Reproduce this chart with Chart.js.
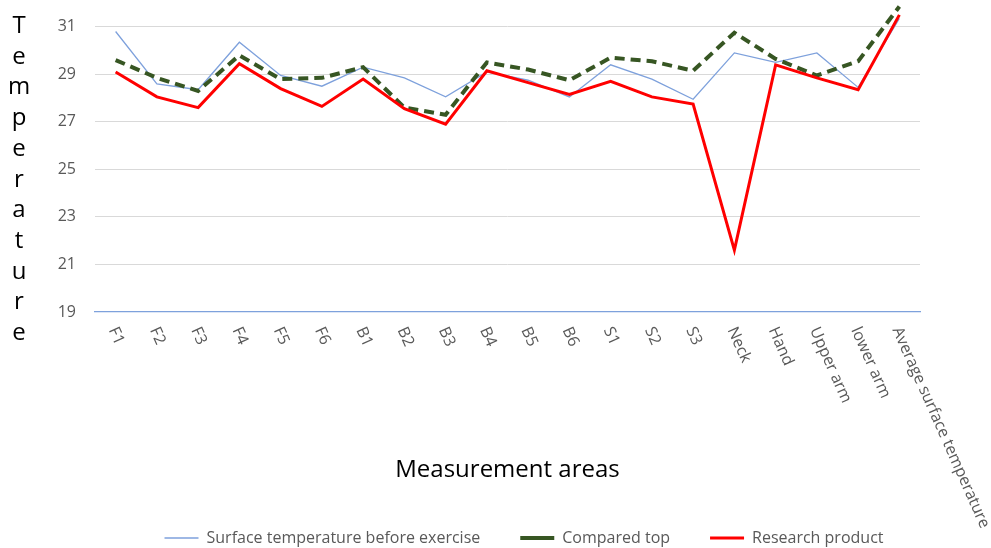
<!DOCTYPE html>
<html>
<head>
<meta charset="utf-8">
<script src="https://cdn.jsdelivr.net/npm/chart.js@4/dist/chart.umd.min.js"></script>
<style>
  html, body { margin: 0; padding: 0; background: #fff; }
  #wrap { width: 991px; height: 548px; position: relative; }
</style>
</head>
<body>
<div id="wrap"><canvas id="c" width="991" height="548"></canvas></div>
<script>
const categories = ['F1','F2','F3','F4','F5','F6','B1','B2','B3','B4','B5','B6','S1','S2','S3','Neck','Hand','Upper arm','lower arm','Average surface temperature'];
const beforeExercise = [30.8, 28.6, 28.35, 30.35, 28.95, 28.5, 29.3, 28.85, 28.05, 29.1, 28.75, 28.05, 29.4, 28.8, 27.95, 29.9, 29.5, 29.9, 28.45, 31.35];
const comparedTop = [29.6, 28.85, 28.3, 29.8, 28.8, 28.85, 29.3, 27.6, 27.3, 29.5, 29.2, 28.75, 29.7, 29.55, 29.15, 30.75, 29.65, 28.95, 29.55, 31.85];
const researchProduct = [29.1, 28.05, 27.6, 29.45, 28.4, 27.65, 28.8, 27.55, 26.9, 29.15, 28.65, 28.15, 28.7, 28.05, 27.75, 21.6, 29.4, 28.85, 28.35, 31.5];
const yTicks = [19, 21, 23, 25, 27, 29, 31];
const yTitle = 'Temperature';
const xTitle = 'Measurement areas';

const FONT = "'Open Sans', 'Noto Sans', sans-serif";

const customText = {
  id: 'customText',
  afterDraw(chart) {
    const ctx = chart.ctx;
    const xs = chart.scales.x;
    const area = chart.chartArea;
    ctx.save();
    // rotated category labels (clockwise, reading downward)
    ctx.font = '16px ' + FONT;
    ctx.fillStyle = '#595959';
    ctx.textAlign = 'left';
    ctx.textBaseline = 'middle';
    categories.forEach((lab, i) => {
      const px = xs.getPixelForTick(i);
      ctx.save();
      ctx.translate(px - 3, area.bottom + 16);
      ctx.rotate(66 * Math.PI / 180);
      ctx.fillText(lab, 0, 0);
      ctx.restore();
    });
    // stacked y-axis title
    ctx.font = '24px ' + FONT;
    ctx.fillStyle = '#000';
    ctx.textAlign = 'center';
    ctx.textBaseline = 'alphabetic';
    yTitle.split('').forEach((ch, i) => {
      ctx.fillText(ch, 19, 33 + i * 30.7);
    });
    ctx.restore();
  }
};

new Chart(document.getElementById('c'), {
  type: 'line',
  data: {
    labels: categories,
    datasets: [
      { label: 'Surface temperature before exercise', data: beforeExercise, borderColor: '#7ea1dc', backgroundColor: '#7ea1dc', borderWidth: 1.3, pointRadius: 0, tension: 0, order: 2 },
      { label: 'Compared top', data: comparedTop, borderColor: '#375623', backgroundColor: '#375623', borderWidth: 4, borderDash: [10, 6], pointRadius: 0, tension: 0, order: 1 },
      { label: 'Research product', data: researchProduct, borderColor: '#ff0000', backgroundColor: '#ff0000', borderWidth: 3, pointRadius: 0, tension: 0, order: 0 }
    ]
  },
  options: {
    responsive: false,
    animation: false,
    devicePixelRatio: 1,
    layout: { padding: { left: 57, right: 0, top: 3, bottom: -8 } },
    plugins: {
      legend: {
        position: 'bottom',
        align: 'center',
        labels: {
          usePointStyle: true,
          pointStyle: 'line',
          pointStyleWidth: 34,
          boxWidth: 34,
          padding: 40,
          color: '#595959',
          font: { size: 16, family: FONT },
          sort: (a, b) => a.datasetIndex - b.datasetIndex
        }
      },
      tooltip: { enabled: false }
    },
    scales: {
      x: {
        offset: true,
        grid: { color: 'rgba(0,0,0,0)', drawTicks: false },
        border: { display: true, color: '#7ea1dc', width: 1.3 },
        ticks: { display: false },
        title: { display: true, text: xTitle, color: '#000', font: { size: 24, family: FONT }, padding: { top: 143.6, bottom: 5.6 } }
      },
      y: {
        min: 19,
        max: 32,
        afterBuildTicks: (s) => { s.ticks = yTicks.map(v => ({ value: v })); },
        afterFit: (s) => { s.width = 38; s.paddingTop = 0; s.paddingBottom = 0; },
        grid: { color: (c) => (c.tick && c.tick.value === 19) ? 'rgba(0,0,0,0)' : '#d9d9d9', lineWidth: 1, drawTicks: false },
        border: { display: false },
        ticks: { padding: 19, color: '#595959', font: { size: 16, family: FONT } }
      },
      y2: {
        position: 'right',
        display: true,
        grid: { display: false, drawTicks: false },
        border: { display: false },
        ticks: { display: false },
        afterFit: (s) => { s.width = 71; s.paddingTop = 0; s.paddingBottom = 0; }
      }
    }
  },
  plugins: [customText]
});
</script>
</body>
</html>
